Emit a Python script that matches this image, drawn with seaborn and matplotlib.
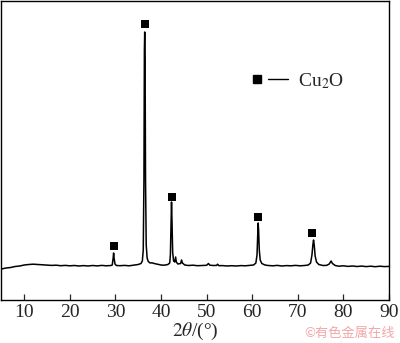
import numpy as np
import pandas as pd
import matplotlib
matplotlib.use("Agg")
import matplotlib.pyplot as plt
import seaborn as sns
from matplotlib.lines import Line2D
from matplotlib.legend_handler import HandlerTuple

# XRD pattern (2theta in degrees, intensity in a.u.)
two_theta = [5.0, 6, 7, 8, 9, 10, 11, 12, 13, 14, 15, 16, 17, 18, 19, 20, 21, 22, 23, 24,
             25, 26, 27, 28, 29, 29.3, 29.5, 29.6, 29.7, 29.9, 30.2, 31, 32, 33, 34, 35,
             35.6, 35.9, 36.1, 36.25, 36.35, 36.42, 36.5, 36.6, 36.75, 36.95, 37.2, 37.6,
             38, 38.5, 39, 39.5, 40, 40.5, 41, 41.5, 41.9, 42.05, 42.2, 42.3, 42.4, 42.55,
             42.75, 43.0, 43.2, 43.35, 43.7, 44.3, 44.5, 44.7, 45.2, 46, 47, 48, 49, 50,
             50.4, 50.7, 51.5, 52.2, 52.4, 52.7, 53.5, 54.5, 55.5, 56.5, 57.5, 58.5, 59.5,
             60.3, 60.8, 61.05, 61.2, 61.3, 61.4, 61.55, 61.75, 62.1, 62.8, 63.5, 64.5,
             65.5, 66.5, 67.5, 68.5, 69.5, 70.5, 71.5, 72.3, 72.8, 73.1, 73.3, 73.45, 73.6,
             73.8, 74.1, 74.6, 75.5, 76.3, 76.9, 77.3, 77.6, 78.2, 79, 80, 81, 82, 83, 84,
             85, 86, 87, 88, 89, 90]
intensity = [31, 32, 32.5, 33.5, 34, 35, 35.5, 35.8, 35.5, 35.2, 35, 34.6, 34.8, 34.3, 34.6,
             34.2, 34.5, 34, 34.4, 34, 34.5, 34.1, 34.6, 34.2, 34.5, 35, 42, 47, 42, 36,
             34.5, 34.3, 34.6, 34.2, 34.8, 35.5, 36.5, 39, 50, 120, 250, 268, 240, 120, 55,
             42, 38.5, 37, 37.2, 36.5, 36, 35.5, 35, 34.8, 35, 35.5, 37, 45, 80, 98, 80, 48,
             39, 38, 43, 38, 36, 36.5, 40, 37, 35, 34.5, 34.8, 34.3, 34.5, 34.7, 36.5, 34.8,
             34.5, 34.6, 35.8, 34.3, 34.4, 34.0, 34.3, 34, 34.4, 34.2, 34.6, 35, 37, 45, 65,
             77, 70, 50, 40, 36.5, 35, 34.5, 34.2, 34.6, 34, 34.4, 34.2, 34.6, 34.2, 34.5,
             35, 37, 45, 55, 60, 55, 44, 38, 35.5, 34.5, 34.6, 36, 39, 36.5, 34.5, 33.8,
             34.2, 33.6, 34, 33.5, 33.9, 33.4, 33.8, 33.3, 33.8, 33.4, 33.6]

# Cu2O peak markers
marker_theta = [29.7, 36.4, 42.5, 61.3, 73.2]
marker_int = [54, 276, 103, 83, 67]

df = pd.DataFrame({"two_theta": two_theta, "intensity": intensity})
mk = pd.DataFrame({"two_theta": marker_theta, "intensity": marker_int})

sns.set_style("ticks")
plt.rcParams["font.family"] = ["Liberation Serif", "DejaVu Serif"]
plt.rcParams["mathtext.fontset"] = "stix"

fig = plt.figure(figsize=(4.0, 3.43), dpi=100)
ax = fig.add_axes([1 / 400, 43 / 343, 388 / 400, 299 / 343])

sns.lineplot(data=df, x="two_theta", y="intensity", sort=False, estimator=None,
             color="black", linewidth=1.1, ax=ax)
sns.scatterplot(data=mk, x="two_theta", y="intensity", marker="s", s=28,
                color="black", edgecolor="black", linewidth=0, ax=ax)

ax.set_xlim(4.9, 90)
ax.set_ylim(0, 299)
ax.set_xticks(range(10, 91, 10))
ax.set_yticks([])
ax.tick_params(axis="x", direction="in", length=4, width=0.9, labelsize=14, pad=3)
for sp in ax.spines.values():
    sp.set_linewidth(1.0)
    sp.set_color("black")
ax.set_ylabel("")
ax.set_xlabel(r"$\mathit{2\theta}$/(°)", fontsize=14, labelpad=0)

sq = Line2D([], [], marker="s", linestyle="none", color="black", markersize=5.5)
dash = Line2D([], [], linestyle="-", color="black", linewidth=1.0)
ax.legend(handles=[(sq, dash)], labels=["Cu$_2$O"], handler_map={tuple: HandlerTuple(ndivide=None, pad=0.05)},
          loc="center left", bbox_to_anchor=(0.59, 0.733), frameon=False, fontsize=14,
          handlelength=2.1, handletextpad=0.5)

fig.text(0.988, 0.028, "©有色金属在线", color="#f2a7a7", fontsize=9.5, ha="right", va="center",
         family=["Noto Sans CJK SC", "DejaVu Sans"])

fig.savefig("out.png", dpi=100)
